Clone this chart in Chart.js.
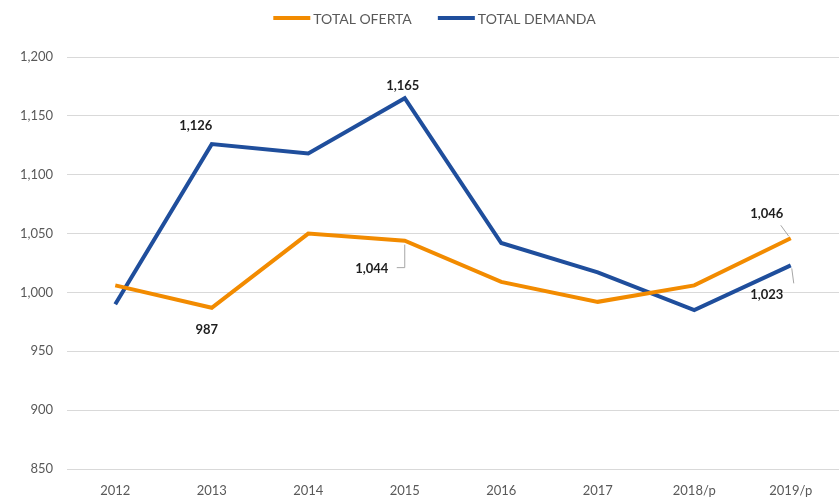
<!DOCTYPE html>
<html lang="es">
<head>
    <meta charset="UTF-8">
    <script src="https://cdn.jsdelivr.net/npm/chart.js"></script>
    <title>Oferta y demanda</title>
    <style>
        html, body { margin: 0; padding: 0; background: #fff; }
        #wrap { width: 839px; height: 502px; }
    </style>
</head>
<body>
    <div id="wrap"><canvas id="myChart"></canvas></div>
<script>
    const years = ['2012', '2013', '2014', '2015', '2016', '2017', '2018/p', '2019/p'];
    const totalOferta = [1006, 987, 1050, 1044, 1009, 992, 1006, 1046];
    const totalDemanda = [990, 1126, 1118, 1165, 1042, 1017, 985, 1023];
    const yTicks = [850, 900, 950, 1000, 1050, 1100, 1150, 1200];

    // which points get a value label, and where it sits relative to the point
    const valueLabels = [
        { ds: 1, i: 1, dx: -16, dy: -18 },
        { ds: 1, i: 3, dx: -2, dy: -12 },
        { ds: 0, i: 1, dx: -5, dy: 22 },
        { ds: 0, i: 3, dx: -33, dy: 28, leader: 'elbow' },
        { ds: 0, i: 7, dx: -24, dy: -24, leader: 'up' },
        { ds: 1, i: 7, dx: -24, dy: 29, leader: 'down' }
    ];

    const FONT = 'Lato, "Open Sans", sans-serif';
    const fmt = (v) => v.toLocaleString('en-US');

    const labelPlugin = {
        id: 'valueLabels',
        afterDatasetsDraw(chart) {
            const ctx = chart.ctx;
            ctx.save();
            ctx.font = 'bold 13px ' + FONT;
            ctx.fillStyle = '#1e1e1e';
            ctx.textAlign = 'center';
            ctx.textBaseline = 'middle';
            ctx.strokeStyle = '#a6a6a6';
            ctx.lineWidth = 1;
            valueLabels.forEach((l) => {
                const pt = chart.getDatasetMeta(l.ds).data[l.i];
                const val = chart.data.datasets[l.ds].data[l.i];
                const x = pt.x + l.dx, y = pt.y + l.dy;
                ctx.fillText(fmt(val), x, y);
                if (l.leader === 'elbow') {
                    ctx.beginPath();
                    ctx.moveTo(x + 25, y - 1);
                    ctx.lineTo(pt.x, y - 1);
                    ctx.lineTo(pt.x, pt.y + 4);
                    ctx.stroke();
                } else if (l.leader === 'up') {
                    ctx.beginPath();
                    ctx.moveTo(x + 14, y + 11);
                    ctx.lineTo(pt.x - 2, pt.y - 2);
                    ctx.stroke();
                } else if (l.leader === 'down') {
                    ctx.beginPath();
                    ctx.moveTo(pt.x + 1, pt.y + 3);
                    ctx.lineTo(pt.x + 3, y - 11);
                    ctx.stroke();
                }
            });
            ctx.restore();
        }
    };

    // legend drawn by hand so the line sample sits tight against the text
    const legendPlugin = {
        id: 'topLegend',
        afterDraw(chart) {
            const ctx = chart.ctx;
            const sets = chart.data.datasets;
            ctx.save();
            ctx.font = '14px ' + FONT;
            ctx.textBaseline = 'middle';
            ctx.textAlign = 'left';
            const lineW = 37, gap = 3, itemGap = 26, y = 18;
            let total = 0;
            sets.forEach((d, k) => {
                total += lineW + gap + ctx.measureText(d.label).width + (k ? itemGap : 0);
            });
            let x = chart.width / 2 + 15 - total / 2;
            sets.forEach((d) => {
                ctx.strokeStyle = d.borderColor;
                ctx.lineWidth = 4;
                ctx.beginPath();
                ctx.moveTo(x, y);
                ctx.lineTo(x + lineW, y);
                ctx.stroke();
                ctx.fillStyle = '#595959';
                ctx.fillText(d.label, x + lineW + gap, y + 1);
                x += lineW + gap + ctx.measureText(d.label).width + itemGap;
            });
            ctx.restore();
        }
    };

    const ctx = document.getElementById('myChart').getContext('2d');
    const myChart = new Chart(ctx, {
        type: 'line',
        data: {
            labels: years,
            datasets: [{
                label: 'TOTAL OFERTA',
                data: totalOferta,
                borderColor: '#f28b00',
                backgroundColor: '#f28b00',
                borderWidth: 4,
                pointRadius: 0,
                tension: 0
            }, {
                label: 'TOTAL DEMANDA',
                data: totalDemanda,
                borderColor: '#1f4e9c',
                backgroundColor: '#1f4e9c',
                borderWidth: 4,
                pointRadius: 0,
                tension: 0
            }]
        },
        options: {
            responsive: true,
            maintainAspectRatio: false,
            animation: false,
            layout: { padding: { top: 57, right: 0, left: 0, bottom: 0 } },
            plugins: {
                legend: { display: false },
                tooltip: { enabled: false }
            },
            scales: {
                x: {
                    offset: true,
                    grid: { display: false },
                    border: { display: false },
                    afterFit: (scale) => { scale.height = 33; },
                    ticks: {
                        color: '#595959',
                        font: { family: FONT, size: 13 },
                        padding: 6,
                        maxRotation: 0,
                        autoSkip: false
                    }
                },
                y: {
                    min: 850,
                    max: 1200,
                    afterFit: (scale) => { scale.width = 67; },
                    afterBuildTicks: (scale) => {
                        scale.ticks = yTicks.map((v) => ({ value: v }));
                    },
                    grid: { color: '#d9d9d9', drawTicks: false },
                    border: { display: false },
                    ticks: {
                        color: '#595959',
                        font: { family: FONT, size: 13 },
                        padding: 14,
                        callback: (v) => fmt(v)
                    }
                }
            }
        },
        plugins: [labelPlugin, legendPlugin]
    });
</script>
</body>
</html>
